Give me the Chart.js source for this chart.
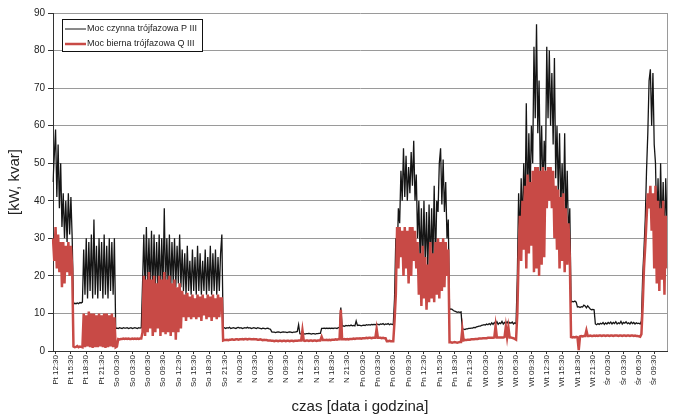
<!DOCTYPE html>
<html>
<head>
<meta charset="utf-8">
<script src="https://cdn.jsdelivr.net/npm/chart.js@4.4.0/dist/chart.umd.min.js"></script>
<style>
    html, body { margin: 0; padding: 0; background: #fff; }
</style>
</head>
<body>
<canvas id="powerChart" width="679" height="419"></canvas>
<script>
// readings every 15 min, Pt 12:00 -> Śr 12:00
const pActive = [
    // Pt afternoon
    45, 52, 59, 41, 55, 38, 50, 33, 42, 30, 40, 29, 42, 31, 41, 30,
    12.5, 12.7, 12.6, 12.8, 12.6, 12.9, 12.8, 13,
    27, 15, 30, 14, 29, 16, 31, 14, 35, 15,
    28, 14, 30, 16, 29, 14, 31, 15, 28, 14,
    30, 16, 29, 15, 30,
    6.0, 6.1, 6.0, 6.2, 6.1, 6.0, 6.2, 6.1, 6.1, 6.2,
    6.0, 6.1, 6.2, 6.0, 6.1, 6.2, 6.1, 6.0, 6.2, 6.1, 6.2,
    // So
    18, 31, 16, 33, 17, 30, 16, 32, 15, 31,
    16, 29, 17, 31, 15, 30, 17, 38, 16, 30,
    17, 31, 16, 29, 18, 30, 17, 28, 18, 31,
    17, 27, 16, 26, 15, 28, 16, 24, 15, 27,
    16, 25, 15, 28, 16, 26, 15, 24, 16, 27,
    15, 25, 16, 28, 15, 26, 16, 27, 15, 25,
    16, 26, 31,
    // So night, N
    6.1, 6.2, 6.0, 6.2, 6.1, 6.3, 6.0, 6.1, 6.2, 6.1,
    6.0, 6.2, 6.3, 6.1, 6.2, 6.0, 6.1, 6.2, 6.1, 6.3,
    6.1, 6.2, 6.0, 6.1, 6.2, 6.1, 6.0, 6.2, 6.1, 6.0,
    5.9, 6.1, 6.0, 5.9, 6.0, 6.1, 5.9, 5.8,
    5.1, 5.0, 5.0, 4.9, 5.0, 5.1, 5.0, 4.9, 5.0, 5.1,
    5.0, 5.0, 4.9, 5.0, 5.1, 5.0, 4.9, 5.0, 5.0, 5.1, 5.2,
    7.0,
    4.6, 4.5, 4.6, 4.6, 4.5, 4.6, 4.6, 4.7, 4.6, 4.5,
    4.6, 4.6, 4.5, 4.6, 4.6, 4.7, 4.7,
    6.0, 6.0, 6.1, 6.0, 6.1, 6.0, 6.1, 6.0, 6.1, 6.0, 6.1, 6.1, 6.0, 6.2, 6.2,
    11.6,
    6.6, 6.7, 6.6, 6.8, 6.7, 6.8, 6.7, 6.9, 6.7, 6.8,
    6.7, 8.0, 6.8, 6.9, 6.8, 6.7, 6.8, 6.9, 6.8, 7.0,
    6.9, 7.0, 6.9, 7.1, 7.0, 7.1, 7.0, 7.2, 7.1, 7.0,
    7.2, 7.1, 7.3, 7.0, 7.2, 7.1, 7.3, 7.0, 7.2, 7.1, 7.0,
    // Pn
    14, 30, 24, 38, 34, 48, 40, 54, 41, 52,
    40, 49, 42, 53, 44, 56, 40, 47, 30, 40,
    24, 38, 22, 40, 23, 37, 21, 39, 22, 38,
    24, 44, 23, 40, 37, 50, 54, 39, 51, 37,
    45, 30, 35,
    11, 11.2, 11.1, 10.8, 10.6, 10.5, 10.3, 10.4, 10.3, 10.4,
    5.8, 5.8, 5.7, 5.9, 5.9, 6.0, 6.0, 6.1, 6.1, 6.3,
    6.2, 6.4, 6.5, 6.6, 6.6, 6.8, 6.9, 7.0, 6.9, 7.2,
    7.0, 7.3, 7.0, 7.5, 7.1, 7.6, 7.2, 7.8, 7.1, 7.5,
    7.3, 7.9, 7.2, 7.6, 7.3, 7.8, 7.2, 7.6, 7.4, 7.7,
    7.2, 7.5, 7.3,
    // Wt
    20, 42, 30, 46, 33, 50, 36, 66, 38, 58,
    42, 60, 50, 81, 62, 87, 58, 72, 46, 60,
    42, 56, 48, 81, 62, 80, 60, 74, 55, 78,
    46, 60, 42, 58, 38, 50, 36, 58, 34, 48,
    30, 38,
    13.0, 13.2, 13.1, 13.3, 13.0, 11.7, 11.8, 11.6, 11.8, 11.7,
    12.2, 12.0, 11.5, 12.0, 11.6, 11.2, 11.0, 11.1, 11.0, 7.2,
    7.0, 7.3, 7.1, 7.4, 7.2, 7.6, 7.1, 7.5, 7.2, 7.6,
    7.3, 7.7, 7.2, 7.6, 7.3, 7.8, 7.2, 7.5, 7.3, 7.9,
    7.2, 7.6, 7.4, 7.8, 7.3, 7.5, 7.2, 7.7, 7.3, 7.6,
    7.2, 7.5, 7.3, 7.4, 7.2,
    // Śr
    8, 20, 27, 35, 48, 58, 72, 75, 60, 74,
    55, 50, 33, 46, 30, 50, 32, 45, 28, 46, 33
];

const qReactive = [
    30, 24, 33, 22, 31, 21, 29, 17, 29, 18, 28, 21, 29, 20, 28, 22,
    1.2, 1.0, 1.1, 1.3, 1.0, 1.2, 1.1, 1.0,
    10, 1, 9.5, 1.2, 10.5, 1, 10, 0.8, 10, 1,
    9.5, 1, 10, 1.2, 9.5, 1, 10, 0.8, 10, 1,
    9.5, 1.2, 10, 1, 9,
    1.0, 1.2, 3.2, 3.1, 3.2, 3.2, 3.3, 3.2, 3.3, 3.2,
    3.3, 3.2, 3.2, 3.3, 3.2, 3.3, 3.2, 3.3, 3.2, 3.3, 3.3,
    5, 20, 4, 19, 5, 21, 6, 19, 4, 20,
    5, 18, 6, 20, 4, 19, 5, 21, 4.5, 19,
    5, 20, 4, 18, 5, 19, 3, 17, 5, 18,
    6, 16, 9, 15, 8, 15.5, 9, 14.5, 8.5, 15,
    9, 14, 8.5, 15, 9, 14.5, 8, 15, 9.5, 14,
    8.5, 15, 9, 14.5, 8, 15, 9, 14, 8.5, 15,
    9, 14, 14,
    2.8, 2.9, 2.9, 3.0, 2.9, 3.0, 3.0, 3.1, 3.0, 3.0,
    3.1, 3.1, 3.0, 3.1, 3.1, 3.2, 3.1, 3.2, 3.2, 3.1,
    3.2, 3.2, 3.1, 3.1, 3.2, 3.1, 3.1, 3.0, 3.0, 3.1,
    3.0, 2.9, 3.0, 2.9, 2.9, 2.8, 2.8, 2.8,
    2.7, 2.7, 2.6, 2.7, 2.7, 2.6, 2.7, 2.7, 2.6, 2.7,
    2.7, 2.6, 2.7, 2.7, 2.6, 2.7, 2.7, 2.6, 2.7, 2.7, 2.7,
    2.8,
    2.8, 2.8, 5.5, 2.8, 2.7, 2.8, 2.8, 2.7, 2.8, 2.8,
    2.7, 2.8, 2.8, 2.7, 2.8, 2.8, 2.8,
    3.8, 2.9, 2.9, 2.9, 3.0, 2.9, 3.0, 2.9, 3.0, 3.0, 3.0, 3.1, 3.0, 3.1, 3.1,
    11,
    3.1, 3.1, 3.2, 3.1, 3.2, 3.1, 3.2, 3.2, 3.2, 3.3,
    3.2, 3.3, 3.3, 3.3, 3.4, 3.3, 3.4, 3.4, 3.4, 3.5,
    3.4, 3.5, 3.5, 3.4, 3.5, 3.5, 3.5, 5.9, 3.5, 3.5,
    3.5, 3.4, 3.5, 3.4, 3.4, 2.6, 2.6, 2.7, 2.6, 2.6, 2.6,
    8, 15, 33, 22, 33, 25, 32, 20, 33, 22,
    32, 18, 33, 20, 33, 24, 32, 22, 29, 15,
    26, 12, 28, 14, 25, 11, 23, 13, 29, 14,
    26, 13, 29, 15, 30, 14, 29, 16, 30, 17,
    29, 20, 27,
    2.3, 2.3, 2.2, 2.3, 2.4, 2.3, 2.2, 2.3, 2.4, 2.4,
    5.8, 2.8, 2.9, 2.9, 3.0, 3.0, 3.0, 3.1, 3.1, 3.1,
    3.2, 3.2, 3.2, 3.3, 3.3, 3.3, 3.4, 3.4, 3.4, 3.4,
    3.5, 3.5, 3.5, 3.5, 3.5, 3.6, 6.7, 3.6, 3.6, 3.6,
    3.6, 3.6, 3.6, 3.7, 6.5, 3.7, 6.3, 3.6, 3.6, 3.5,
    3.4, 3.2, 3.0,
    10, 25, 36, 24, 40, 27, 44, 22, 47, 26,
    45, 28, 48, 21, 49, 22, 49, 20, 48, 23,
    49, 25, 48, 38, 49, 40, 49, 38, 48, 30,
    44, 27, 43, 22, 41, 24, 42, 21, 38, 23,
    34, 25,
    3.7, 3.6, 3.7, 3.6, 3.8, 3.7, 0.2, 3.9, 4.0, 3.9,
    4.0, 4.0, 5.5, 4.0, 4.0, 4.1, 4.0, 4.0, 4.1, 4.0,
    4.1, 4.0, 4.1, 4.1, 4.0, 4.1, 4.1, 4.0, 4.1, 4.1,
    4.0, 4.1, 4.1, 4.0, 4.1, 4.1, 4.1, 4.0, 4.1, 4.1,
    4.0, 4.1, 4.1, 4.0, 4.1, 4.1, 4.0, 4.1, 4.1, 4.0,
    4.1, 4.0, 4.0, 3.9, 3.8,
    4.5, 12, 22, 28, 35, 42, 38, 44, 32, 42,
    22, 44, 18, 40, 16, 38, 19, 40, 15, 36, 22
];

const tickLabels = [
    'Pt 12:30', 'Pt 15:30', 'Pt 18:30', 'Pt 21:30',
    'So 00:30', 'So 03:30', 'So 06:30', 'So 09:30', 'So 12:30', 'So 15:30', 'So 18:30', 'So 21:30',
    'N 00:30', 'N 03:30', 'N 06:30', 'N 09:30', 'N 12:30', 'N 15:30', 'N 18:30', 'N 21:30',
    'Pn 00:30', 'Pn 03:30', 'Pn 06:30', 'Pn 09:30', 'Pn 12:30', 'Pn 15:30', 'Pn 18:30', 'Pn 21:30',
    'Wt 00:30', 'Wt 03:30', 'Wt 06:30', 'Wt 09:30', 'Wt 12:30', 'Wt 15:30', 'Wt 18:30', 'Wt 21:30',
    'Śr 00:30', 'Śr 03:30', 'Śr 06:30', 'Śr 09:30'
];

const dayNames = ['Pt', 'So', 'N', 'Pn', 'Wt', 'Śr'];
const seriesNames = ['Moc czynna trójfazowa P III', 'Moc bierna trójfazowa Q III'];

// category labels, one per sample (15 min step from Pt 12:00)
const timeLabels = [];
for (let i = 0; i < pActive.length; i++) {
    const minutes = 12 * 60 + i * 15;
    const m = minutes % 1440;
    const hh = String(Math.floor(m / 60)).padStart(2, '0');
    const mm = String(m % 60).padStart(2, '0');
    timeLabels.push(dayNames[Math.floor(minutes / 1440)] + ' ' + hh + ':' + mm);
}

const FONT = '"Liberation Sans", Arial, sans-serif';

// legend box inside the plot + right frame line
const boxLegend = {
    id: 'boxLegend',
    afterDraw(chart) {
        const ctx = chart.ctx;
        const area = chart.chartArea;
        ctx.save();
        ctx.strokeStyle = '#9a9a9a';
        ctx.lineWidth = 1;
        ctx.beginPath();
        ctx.moveTo(area.right + 0.5, area.top);
        ctx.lineTo(area.right + 0.5, area.bottom);
        ctx.stroke();

        const x = area.left + 9, y = area.top + 6;
        ctx.fillStyle = '#fff';
        ctx.fillRect(x, y, 141, 33);
        ctx.strokeStyle = '#111';
        ctx.strokeRect(x + 0.5, y + 0.5, 140, 32);

        ctx.font = '9px ' + FONT;
        ctx.textBaseline = 'middle';
        chart.data.datasets.forEach((ds, k) => {
            const ly = y + 10 + k * 15;
            ctx.strokeStyle = ds.borderColor;
            ctx.lineWidth = k === 0 ? 1 : ds.borderWidth;
            ctx.beginPath();
            ctx.moveTo(x + 3, ly);
            ctx.lineTo(x + 24, ly);
            ctx.stroke();
            ctx.fillStyle = '#222';
            ctx.fillText(ds.label, x + 25, ly);
        });
        ctx.restore();
    }
};

new Chart(document.getElementById('powerChart'), {
    type: 'line',
    data: {
        labels: timeLabels,
        datasets: [
            {
                label: seriesNames[0],
                data: pActive,
                borderColor: '#151515',
                borderWidth: 1.3,
                pointRadius: 0,
                order: 1
            },
            {
                label: seriesNames[1],
                data: qReactive,
                borderColor: '#c84a46',
                borderWidth: 2.5,
                pointRadius: 0,
                order: 0
            }
        ]
    },
    options: {
        responsive: false,
        animation: false,
        layout: { padding: { top: 13, right: 12, left: 0, bottom: 0 } },
        plugins: {
            legend: { display: false },
            tooltip: { enabled: false }
        },
        scales: {
            x: {
                type: 'category',
                offset: false,
                afterBuildTicks(scale) {
                    scale.ticks = scale.ticks.filter(t => tickLabels.includes(timeLabels[t.value]));
                },
                afterFit(scale) { scale.height = 68; },
                grid: { drawOnChartArea: false, tickLength: 3, tickColor: '#333' },
                border: { color: '#333' },
                ticks: {
                    autoSkip: false,
                    maxRotation: 90,
                    minRotation: 90,
                    padding: 1,
                    color: '#222',
                    font: { family: FONT, size: 8 }
                },
                title: {
                    display: true,
                    text: 'czas [data i godzina]',
                    color: '#222',
                    font: { family: FONT, size: 15 },
                    padding: { top: 0, bottom: 3 }
                }
            },
            y: {
                min: 0,
                max: 90,
                afterFit(scale) { scale.width = 53; },
                grid: { color: '#9a9a9a', tickLength: 5, tickColor: '#333' },
                border: { color: '#333' },
                ticks: {
                    stepSize: 10,
                    padding: 3,
                    color: '#222',
                    font: { family: FONT, size: 10 }
                },
                title: {
                    display: true,
                    text: '[kW, kvar]',
                    color: '#222',
                    font: { family: FONT, size: 15 },
                    padding: { top: 6, bottom: 0 }
                }
            }
        }
    },
    plugins: [boxLegend]
});
</script>
</body>
</html>
